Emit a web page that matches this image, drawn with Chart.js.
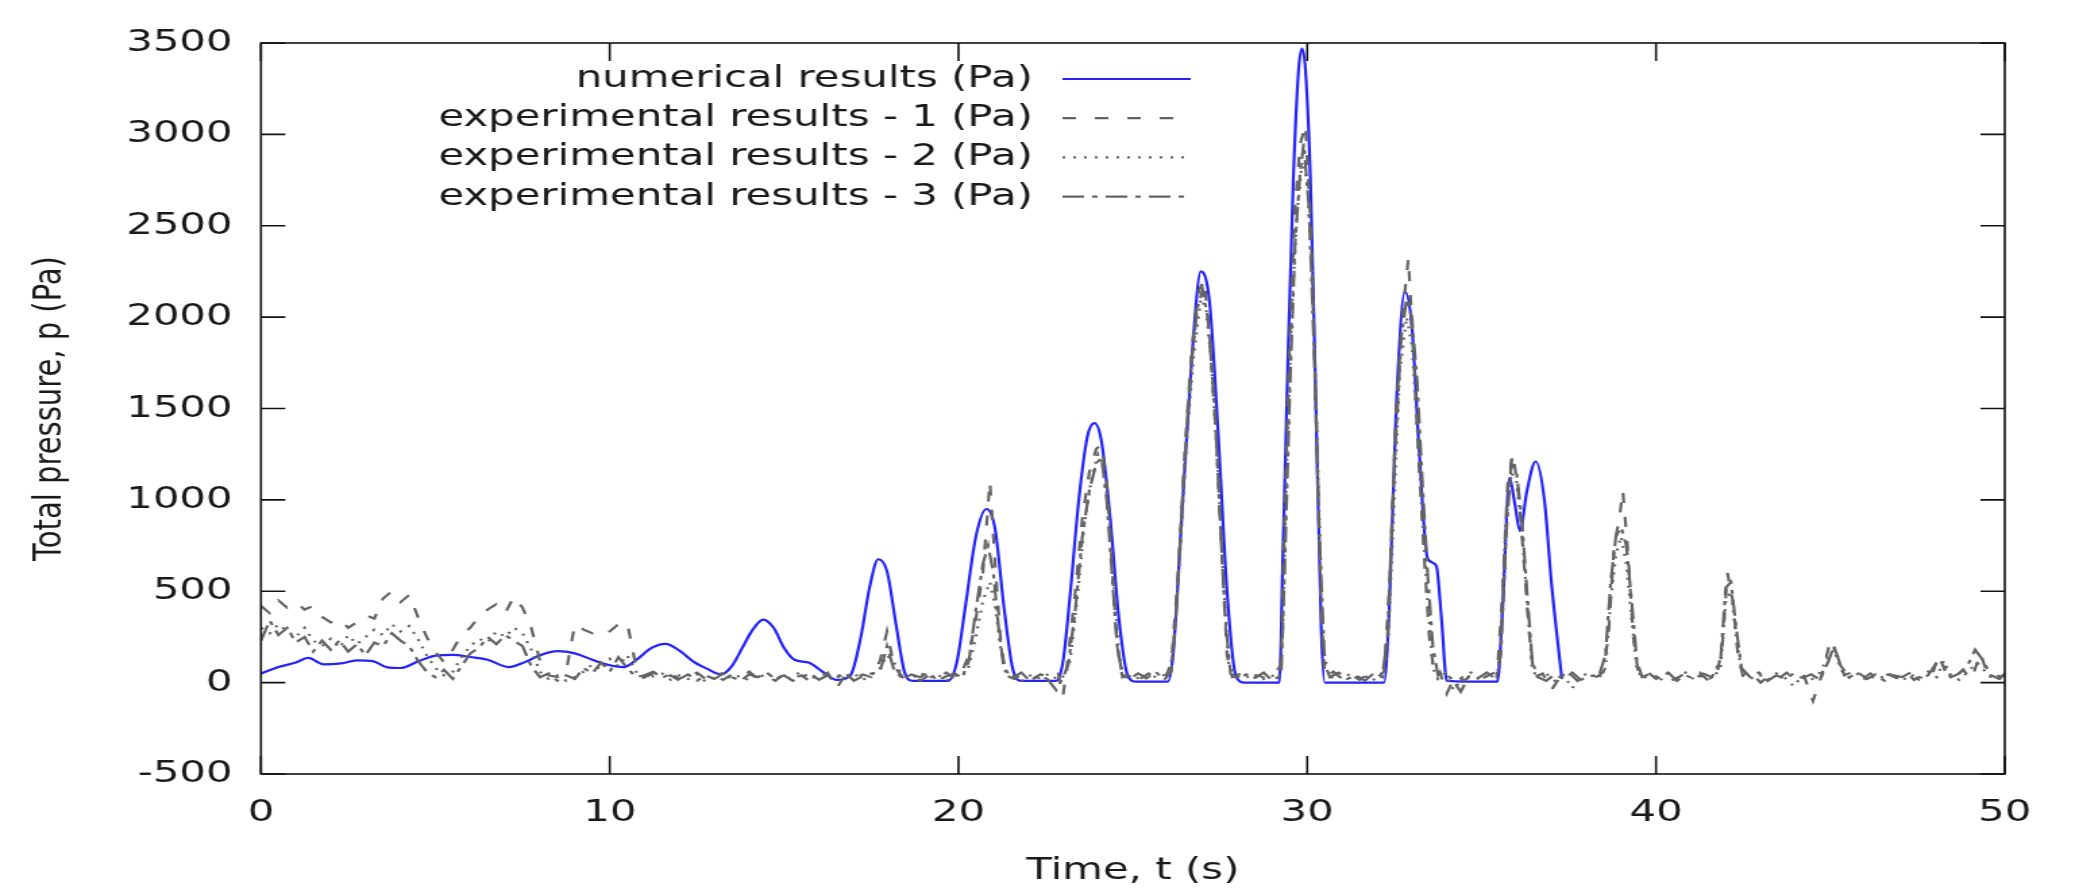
<!DOCTYPE html>
<html>
<head>
<meta charset="utf-8">
<title>Total pressure</title>
<script src="https://cdn.jsdelivr.net/npm/chart.js@4.4.1/dist/chart.umd.min.js"></script>
<style>
  html, body { margin: 0; padding: 0; background: #fff; overflow: hidden; }
  /* the source picture is stretched sideways, so the chart is drawn narrow and widened */
  #wrap { width: 1545px; height: 890px; transform: scaleX(1.35); transform-origin: 0 0; }
</style>
</head>
<body>
<div id="wrap"><canvas id="pressureChart" width="1545" height="890"></canvas></div>
<script>
// [time (s), pressure (Pa)]
const numerical = [
  [0,50],[0.5,85],[1.0,110],[1.35,135],[1.8,100],[2.3,105],[2.75,122],[3.2,118],[3.6,85],[4.0,80],
  [4.5,115],[5.0,148],[5.5,152],[6.0,140],[6.5,125],[7.1,85],[7.6,115],[8.0,150],[8.5,172],[9.0,160],
  [9.5,125],[10.0,95],[10.4,85],[10.8,130],[11.2,190],[11.6,212],[12.0,175],[12.4,115],[12.8,75],[13.2,45],
  [13.5,90],[13.8,190],[14.1,290],[14.4,345],[14.7,300],[15.0,190],[15.3,125],[15.7,110],[16.1,60],[16.5,15],
  [16.9,40],[17.2,250],[17.45,520],[17.7,675],[17.95,610],[18.2,330],[18.45,60],[18.7,10],[19.7,10],[19.95,110],
  [20.2,420],[20.5,800],[20.8,950],[21.05,840],[21.3,420],[21.55,80],[21.8,10],[22.8,10],[23.0,120],[23.2,480],
  [23.45,1000],[23.7,1350],[23.9,1420],[24.1,1320],[24.35,900],[24.6,350],[24.85,40],[25.1,5],[26.0,5],[26.15,150],
  [26.4,900],[26.7,1800],[26.95,2250],[27.2,2080],[27.45,1350],[27.7,500],[27.95,40],[28.2,0],[29.2,0],[29.3,690],
  [29.45,1800],[29.6,2750],[29.75,3350],[29.85,3470],[29.95,3350],[30.1,2700],[30.25,1500],[30.4,300],[30.5,0],[32.2,0],
  [32.35,400],[32.55,1500],[32.8,2140],[33.0,1950],[33.2,1300],[33.45,680],[33.7,640],[33.85,350],[34.0,10],[35.45,5],
  [35.6,400],[35.8,1120],[35.95,980],[36.1,830],[36.3,1050],[36.55,1210],[36.8,1000],[37.0,550],[37.3,20]
];

const experiment1 = [
  [0,420],[0.25,380],[0.5,450],[0.75,410],[1.0,440],[1.25,400],[1.5,420],[1.75,360],[2.0,330],[2.25,350],
  [2.5,300],[2.75,330],[3.0,370],[3.25,350],[3.5,460],[3.75,500],[4.0,440],[4.25,480],[4.5,360],[4.75,250],
  [5.0,170],[5.25,110],[5.5,180],[5.75,260],[6.0,300],[6.25,360],[6.5,400],[6.75,430],[7.0,380],[7.25,470],
  [7.5,410],[7.75,300],[8.0,120],[8.25,40],[8.5,30],[8.75,60],[9.0,320],[9.25,290],[9.5,270],[9.75,300],
  [10.0,280],[10.25,320],[10.5,330],[10.75,90],[11.0,30],[11.25,50],[11.5,20],[11.75,40],[12.0,10],[12.25,35],
  [12.5,55],[12.75,20],[13.0,40],[13.25,15],[13.5,45],[13.75,30],[14.0,60],[14.25,20],[14.5,35],[14.75,10],
  [15.0,50],[15.25,25],[15.5,40],[15.75,5],[16.0,30],[16.25,55],[16.5,-30],[16.75,40],[17.0,20],[17.25,45],
  [17.5,30],[17.75,120],[17.95,280],[18.15,90],[18.4,30],[18.65,50],[18.9,10],[19.15,40],[19.4,25],[19.65,55],
  [19.9,20],[20.1,60],[20.3,150],[20.5,350],[20.7,600],[20.9,1100],[21.05,650],[21.2,250],[21.35,40],[21.6,20],
  [21.85,50],[22.1,15],[22.35,45],[22.6,30],[22.85,60],[23.0,-70],[23.15,150],[23.35,500],[23.55,900],[23.75,1150],
  [23.95,1280],[24.1,1300],[24.25,1100],[24.4,650],[24.55,200],[24.7,30],[24.95,60],[25.2,20],[25.45,50],[25.7,15],
  [25.95,40],[26.1,100],[26.3,600],[26.5,1300],[26.7,1850],[26.9,2150],[27.05,2200],[27.2,1900],[27.4,1300],[27.55,700],
  [27.7,150],[27.85,30],[28.1,50],[28.35,10],[28.6,40],[28.85,20],[29.1,55],[29.25,100],[29.35,900],[29.5,1900],
  [29.65,2600],[29.8,2950],[29.95,3050],[30.1,2500],[30.25,1500],[30.4,400],[30.5,30],[30.75,60],[31.0,20],[31.25,45],
  [31.5,15],[31.75,50],[32.0,25],[32.2,60],[32.35,500],[32.55,1500],[32.75,2050],[32.9,2320],[33.05,1800],[33.2,1200],
  [33.35,700],[33.5,250],[33.65,40],[33.8,60],[34.0,-60],[34.25,40],[34.5,10],[34.75,50],[35.0,20],[35.25,45],
  [35.45,60],[35.6,500],[35.75,1100],[35.9,1250],[36.05,1050],[36.2,700],[36.35,300],[36.5,30],[36.75,50],[37.0,-40],
  [37.25,30],[37.5,55],[37.75,10],[38.0,40],[38.25,25],[38.5,60],[38.65,300],[38.8,750],[38.95,900],[39.05,1050],
  [39.2,700],[39.35,250],[39.5,40],[39.75,60],[40.0,20],[40.25,50],[40.5,15],[40.75,40],[41.0,30],[41.25,55],
  [41.5,10],[41.75,45],[41.9,200],[42.05,600],[42.2,450],[42.35,150],[42.5,30],[42.75,50],[43.0,0],[43.25,40],
  [43.5,20],[43.75,55],[44.0,10],[44.25,35],[44.5,-100],[44.75,40],[45.0,230],[45.2,150],[45.4,40],[45.65,60],
  [45.9,20],[46.15,50],[46.4,10],[46.65,45],[46.9,25],[47.15,60],[47.4,15],[47.65,40],[47.9,30],[48.1,150],
  [48.3,60],[48.55,30],[48.8,70],[49.05,20],[49.3,160],[49.5,50],[49.75,30],[50,40]
];

const experiment2 = [
  [0,300],[0.25,270],[0.5,320],[0.75,280],[1.0,250],[1.25,300],[1.5,230],[1.75,200],[2.0,240],[2.25,190],
  [2.5,260],[2.75,210],[3.0,250],[3.25,290],[3.5,260],[3.75,320],[4.0,280],[4.25,310],[4.5,240],[4.75,150],
  [5.0,80],[5.25,40],[5.5,60],[5.75,140],[6.0,200],[6.25,240],[6.5,220],[6.75,280],[7.0,250],[7.25,300],
  [7.5,270],[7.75,180],[8.0,60],[8.25,20],[8.5,40],[8.75,10],[9.0,30],[9.25,60],[9.5,100],[9.75,70],
  [10.0,130],[10.25,90],[10.5,150],[10.75,60],[11.0,20],[11.25,35],[11.5,50],[11.75,15],[12.0,40],[12.25,20],
  [12.5,45],[12.75,5],[13.0,30],[13.25,55],[13.5,20],[13.75,40],[14.0,10],[14.25,50],[14.5,25],[14.75,45],
  [15.0,15],[15.25,35],[15.5,60],[15.75,20],[16.0,40],[16.25,10],[16.5,45],[16.75,25],[17.0,50],[17.25,15],
  [17.5,40],[17.75,80],[17.95,150],[18.15,110],[18.4,40],[18.65,20],[18.9,55],[19.15,25],[19.4,45],[19.65,10],
  [19.9,40],[20.1,30],[20.3,90],[20.5,250],[20.7,450],[20.9,550],[21.05,420],[21.2,200],[21.35,60],[21.6,35],
  [21.85,10],[22.1,45],[22.35,20],[22.6,50],[22.85,15],[23.05,40],[23.2,120],[23.4,450],[23.6,850],[23.8,1100],
  [24.0,1250],[24.15,1200],[24.3,950],[24.45,550],[24.6,150],[24.75,20],[25.0,45],[25.25,10],[25.5,40],[25.75,25],
  [26.0,55],[26.15,150],[26.35,700],[26.55,1350],[26.75,1800],[26.95,2100],[27.1,2050],[27.25,1750],[27.45,1150],[27.6,550],
  [27.75,100],[27.95,40],[28.2,20],[28.45,50],[28.7,15],[28.95,40],[29.2,25],[29.3,300],[29.4,1100],[29.55,2000],
  [29.7,2550],[29.85,2850],[30.0,2750],[30.15,2200],[30.3,1200],[30.45,200],[30.6,40],[30.85,15],[31.1,50],[31.35,25],
  [31.6,45],[31.85,10],[32.1,40],[32.3,150],[32.45,800],[32.65,1700],[32.85,2000],[33.0,1850],[33.15,1400],[33.3,900],
  [33.45,450],[33.6,80],[33.75,20],[33.95,50],[34.2,-40],[34.45,30],[34.7,55],[34.95,15],[35.2,40],[35.45,30],
  [35.55,250],[35.7,900],[35.85,1150],[36.0,1100],[36.15,850],[36.3,450],[36.45,80],[36.6,20],[36.85,50],[37.1,10],
  [37.35,40],[37.6,-30],[37.85,35],[38.1,55],[38.35,20],[38.55,80],[38.7,450],[38.85,700],[39.0,800],[39.15,650],
  [39.3,350],[39.45,80],[39.6,20],[39.85,45],[40.1,10],[40.35,50],[40.6,25],[40.85,55],[41.1,15],[41.35,40],
  [41.6,20],[41.85,80],[42.0,450],[42.15,500],[42.3,250],[42.45,60],[42.7,20],[42.95,45],[43.2,15],[43.45,50],
  [43.7,25],[43.95,-20],[44.2,40],[44.45,15],[44.7,55],[44.95,150],[45.1,180],[45.3,70],[45.55,25],[45.8,50],
  [46.05,10],[46.3,40],[46.55,25],[46.8,55],[47.05,10],[47.3,45],[47.55,20],[47.8,60],[48.05,30],[48.25,120],
  [48.45,40],[48.7,15],[48.95,60],[49.2,110],[49.4,70],[49.65,20],[49.9,45],[50,30]
];

const experiment3 = [
  [0,230],[0.25,340],[0.5,260],[0.75,300],[1.0,220],[1.25,250],[1.5,170],[1.75,230],[2.0,180],[2.25,230],
  [2.5,170],[2.75,210],[3.0,150],[3.25,220],[3.5,200],[3.75,270],[4.0,230],[4.25,200],[4.5,120],[4.75,60],
  [5.0,30],[5.25,70],[5.5,20],[5.75,90],[6.0,160],[6.25,190],[6.5,250],[6.75,210],[7.0,260],[7.25,230],
  [7.5,200],[7.75,90],[8.0,30],[8.25,50],[8.5,10],[8.75,40],[9.0,20],[9.25,80],[9.5,50],[9.75,110],
  [10.0,60],[10.25,140],[10.5,80],[10.75,30],[11.0,40],[11.25,60],[11.5,25],[11.75,50],[12.0,20],[12.25,45],
  [12.5,10],[12.75,40],[13.0,20],[13.25,50],[13.5,30],[13.75,10],[14.0,45],[14.25,30],[14.5,55],[14.75,20],
  [15.0,40],[15.25,10],[15.5,30],[15.75,50],[16.0,15],[16.25,40],[16.5,25],[16.75,55],[17.0,10],[17.25,35],
  [17.5,50],[17.75,60],[17.95,200],[18.15,70],[18.4,20],[18.65,45],[18.9,30],[19.15,55],[19.4,10],[19.65,35],
  [19.9,50],[20.1,25],[20.3,120],[20.5,400],[20.7,650],[20.85,750],[21.0,600],[21.15,300],[21.3,80],[21.55,25],
  [21.8,55],[22.05,10],[22.3,40],[22.55,20],[22.8,-40],[23.0,30],[23.15,100],[23.35,400],[23.55,800],[23.75,1050],
  [23.95,1200],[24.1,1230],[24.25,1000],[24.4,600],[24.55,200],[24.7,40],[24.9,20],[25.15,50],[25.4,25],[25.65,60],
  [25.9,15],[26.1,60],[26.25,400],[26.45,1100],[26.65,1700],[26.85,2050],[27.0,2150],[27.15,2000],[27.35,1500],[27.5,900],
  [27.65,350],[27.8,50],[28.0,20],[28.25,45],[28.5,25],[28.75,55],[29.0,10],[29.25,40],[29.35,600],[29.5,1600],
  [29.65,2400],[29.8,2800],[29.9,2950],[30.05,2600],[30.2,1800],[30.35,800],[30.5,100],[30.65,30],[30.9,55],[31.15,20],
  [31.4,40],[31.65,10],[31.9,50],[32.15,30],[32.3,250],[32.5,1200],[32.7,1900],[32.85,2100],[33.0,2000],[33.15,1650],
  [33.3,1100],[33.45,600],[33.6,200],[33.75,40],[33.9,55],[34.15,20],[34.4,-50],[34.65,40],[34.9,25],[35.15,55],
  [35.4,20],[35.55,150],[35.7,800],[35.85,1200],[36.0,1150],[36.15,900],[36.3,500],[36.45,120],[36.6,30],[36.85,10],
  [37.1,45],[37.35,20],[37.6,55],[37.85,15],[38.1,40],[38.35,30],[38.55,150],[38.7,550],[38.85,800],[39.0,850],
  [39.15,750],[39.3,450],[39.45,120],[39.6,30],[39.85,50],[40.1,25],[40.35,55],[40.6,10],[40.85,40],[41.1,20],
  [41.35,50],[41.6,30],[41.85,120],[42.0,520],[42.15,550],[42.3,300],[42.45,80],[42.7,30],[42.95,55],[43.2,10],
  [43.45,40],[43.7,20],[43.95,50],[44.2,25],[44.45,45],[44.7,15],[44.95,120],[45.1,200],[45.3,90],[45.55,30],
  [45.8,55],[46.05,20],[46.3,45],[46.55,10],[46.8,40],[47.05,30],[47.3,55],[47.55,15],[47.8,40],[48.05,110],
  [48.25,90],[48.45,30],[48.7,50],[48.95,100],[49.15,180],[49.35,130],[49.6,40],[49.85,20],[50,50]
];

const seriesLabels = [
  'numerical results (Pa)',
  'experimental results - 1 (Pa)',
  'experimental results - 2 (Pa)',
  'experimental results - 3 (Pa)'
];

const FONT = '"DejaVu Sans", sans-serif';
const TEXT_COLOR = '#1a1a1a';
const BLUE = 'rgb(35,35,250)';
const GRAY = '#646464';
const TICK_LEN = 18;

function toPoints(rows) {
  return rows.map(r => ({ x: r[0], y: r[1] }));
}

// gnuplot style box with inward ticks on all four sides
const framePlugin = {
  id: 'frame',
  afterDatasetsDraw(chart) {
    const { ctx, chartArea: a, scales: { x, y } } = chart;
    ctx.save();
    ctx.strokeStyle = '#111';
    ctx.lineWidth = 1.6;
    ctx.setLineDash([]);
    ctx.strokeRect(a.left, a.top, a.right - a.left, a.bottom - a.top);
    ctx.beginPath();
    x.ticks.forEach(t => {
      const px = x.getPixelForValue(t.value);
      ctx.moveTo(px, a.bottom); ctx.lineTo(px, a.bottom - TICK_LEN);
      ctx.moveTo(px, a.top); ctx.lineTo(px, a.top + TICK_LEN);
    });
    y.ticks.forEach(t => {
      const py = y.getPixelForValue(t.value);
      ctx.moveTo(a.left, py); ctx.lineTo(a.left + TICK_LEN, py);
      ctx.moveTo(a.right, py); ctx.lineTo(a.right - TICK_LEN, py);
    });
    ctx.stroke();
    ctx.restore();
  }
};

// key: text right-aligned, line sample to its right
const keyPlugin = {
  id: 'key',
  afterDraw(chart) {
    const ctx = chart.ctx;
    ctx.save();
    ctx.font = '31px ' + FONT;
    ctx.textAlign = 'right';
    ctx.textBaseline = 'middle';
    chart.data.datasets.forEach((ds, i) => {
      const yy = 79 + i * 39.2;
      ctx.fillStyle = TEXT_COLOR;
      ctx.fillText(ds.label, 765, yy);
      ctx.strokeStyle = ds.borderColor;
      ctx.lineWidth = ds.borderWidth;
      ctx.setLineDash(ds.borderDash || []);
      ctx.beginPath();
      ctx.moveTo(787, yy);
      ctx.lineTo(882, yy);
      ctx.stroke();
    });
    ctx.restore();
  }
};

const ctx = document.getElementById('pressureChart').getContext('2d');
const pressureChart = new Chart(ctx, {
  type: 'line',
  data: {
    datasets: [
      { label: seriesLabels[0], data: toPoints(numerical), borderColor: BLUE, borderWidth: 2.2,
        pointRadius: 0, cubicInterpolationMode: 'monotone', order: 4 },
      { label: seriesLabels[1], data: toPoints(experiment1), borderColor: GRAY, borderWidth: 2.2,
        borderDash: [10, 14], pointRadius: 0, order: 1 },
      { label: seriesLabels[2], data: toPoints(experiment2), borderColor: GRAY, borderWidth: 2.2,
        borderDash: [2, 6], pointRadius: 0, order: 2 },
      { label: seriesLabels[3], data: toPoints(experiment3), borderColor: GRAY, borderWidth: 2.2,
        borderDash: [16, 6, 4, 6], pointRadius: 0, order: 3 }
    ]
  },
  options: {
    responsive: false,
    animation: false,
    devicePixelRatio: 1,
    layout: { padding: { left: 0, right: 60, top: 43, bottom: 0 } },
    plugins: { legend: { display: false }, tooltip: { enabled: false } },
    scales: {
      x: {
        type: 'linear', min: 0, max: 50,
        grid: { display: false, drawTicks: false },
        border: { display: false },
        ticks: { stepSize: 10, padding: 20, maxRotation: 0, color: TEXT_COLOR,
                 font: { family: FONT, size: 31 }, callback: v => String(v) },
        title: { display: true, text: 'Time, t (s)', color: TEXT_COLOR,
                 font: { family: FONT, size: 31 }, padding: { top: 0, bottom: 0 } },
        afterFit: s => { s.height = 116; }
      },
      y: {
        min: -500, max: 3500,
        grid: { display: false, drawTicks: false },
        border: { display: false },
        ticks: { stepSize: 500, padding: 21, autoSkip: false, color: TEXT_COLOR,
                 font: { family: FONT, size: 31 }, callback: v => String(v) },
        title: { display: true, text: 'Total pressure, p (Pa)', color: TEXT_COLOR,
                 font: { family: FONT, size: 29 }, padding: { top: 20, bottom: 0 } },
        afterFit: s => { s.width = 193.3; }
      }
    }
  },
  plugins: [framePlugin, keyPlugin]
});
</script>
</body>
</html>
